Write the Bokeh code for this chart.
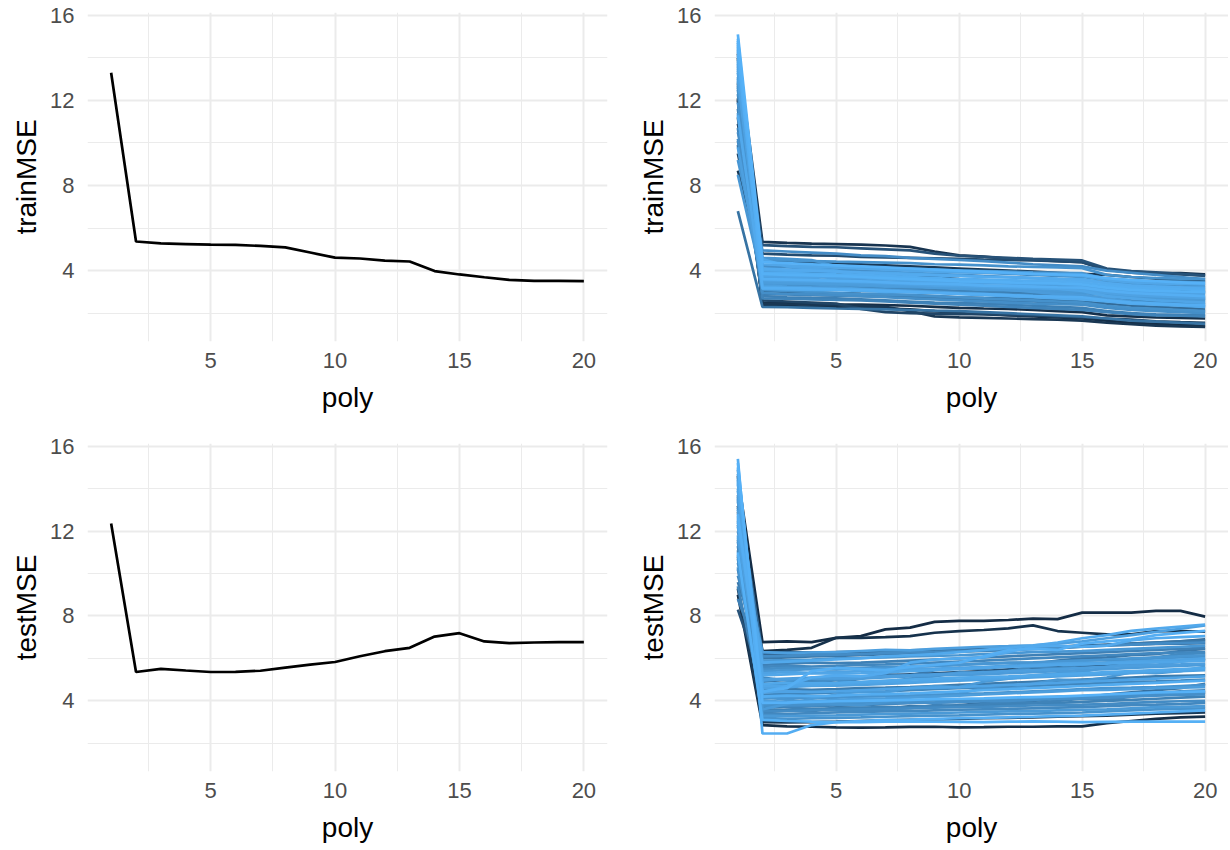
from bokeh.plotting import figure
from bokeh.layouts import gridplot
from bokeh.models import Range1d, FixedTicker
from bokeh.embed import file_html
from bokeh.resources import INLINE

# polynomial degree on the x axis
poly = list(range(1, 21))

# single split (left column)
train_one = [13.30, 5.37, 5.28, 5.25, 5.22, 5.21, 5.16, 5.09, 4.85, 4.61,
             4.57, 4.47, 4.43, 3.98, 3.82, 3.69, 3.57, 3.52, 3.52, 3.51]
test_one = [12.36, 5.36, 5.51, 5.43, 5.36, 5.37, 5.42, 5.57, 5.71, 5.83,
            6.10, 6.34, 6.50, 7.03, 7.19, 6.80, 6.72, 6.75, 6.77, 6.77]

# repeated splits (right column): simulation id and MSE per degree
train_sim = [8, 30, 73, 79, 12, 20, 95, 87, 5, 88, 25, 3, 80, 76, 92, 81, 63, 99, 75, 74,
             54, 85, 15, 97, 78, 100, 66, 90, 62, 96, 48, 72, 82, 98, 58, 86, 93, 68, 10, 83,
             91, 84, 77, 94, 89]
train_runs = [
    [14.2, 5.35, 5.30, 5.27, 5.25, 5.22, 5.18, 5.12, 4.90, 4.72, 4.66, 4.55, 4.50, 4.45, 4.40, 4.02, 3.95, 3.90, 3.88, 3.83],
    [12.8, 5.20, 5.15, 5.12, 5.10, 5.05, 5.00, 4.95, 4.80, 4.70, 4.65, 4.60, 4.55, 4.52, 4.48, 4.10, 3.98, 3.92, 3.85, 3.75],
    [10.5, 4.95, 4.90, 4.85, 4.80, 4.72, 4.68, 4.60, 4.55, 4.50, 4.45, 4.38, 4.30, 4.25, 4.20, 4.00, 3.90, 3.80, 3.70, 3.60],
    [13.6, 4.60, 4.55, 4.50, 4.20, 4.15, 4.12, 4.10, 4.05, 4.00, 3.98, 3.95, 3.92, 3.90, 3.88, 3.60, 3.55, 3.50, 3.48, 3.45],
    [8.7, 4.45, 4.40, 4.38, 4.35, 4.30, 4.25, 4.20, 4.15, 4.10, 4.05, 4.00, 3.95, 3.90, 3.85, 3.80, 3.70, 3.62, 3.55, 3.50],
    [11.2, 2.60, 2.55, 2.50, 2.45, 2.20, 2.05, 2.00, 1.98, 1.96, 1.95, 1.92, 1.90, 1.85, 1.80, 1.75, 1.70, 1.62, 1.58, 1.55],
    [14.5, 4.10, 4.05, 4.00, 3.95, 3.90, 3.85, 3.80, 3.78, 3.75, 3.72, 3.70, 3.65, 3.60, 3.55, 3.40, 3.30, 3.25, 3.20, 3.15],
    [9.8, 3.30, 3.25, 3.22, 3.20, 3.15, 3.10, 3.05, 3.00, 2.95, 2.90, 2.85, 2.80, 2.75, 2.70, 2.60, 2.50, 2.45, 2.40, 2.35],
    [12.1, 2.50, 2.48, 2.45, 2.42, 2.40, 2.38, 2.35, 2.30, 2.25, 2.22, 2.20, 2.15, 2.10, 2.05, 1.90, 1.85, 1.80, 1.78, 1.75],
    [13.0, 3.70, 3.65, 3.60, 3.55, 3.50, 3.48, 3.45, 3.40, 3.35, 3.30, 3.28, 3.25, 3.20, 3.15, 3.05, 3.00, 2.95, 2.90, 2.85],
    [10.9, 4.80, 4.75, 4.72, 4.70, 4.65, 4.62, 4.60, 4.58, 4.55, 4.52, 4.50, 4.48, 4.45, 4.40, 4.05, 3.90, 3.85, 3.82, 3.78],
    [14.0, 2.35, 2.33, 2.30, 2.28, 2.25, 2.22, 2.18, 2.10, 2.00, 1.95, 1.90, 1.85, 1.80, 1.75, 1.65, 1.55, 1.50, 1.45, 1.40],
    [9.2, 3.95, 3.90, 3.85, 3.80, 3.75, 3.70, 3.62, 3.55, 3.50, 3.45, 3.40, 3.35, 3.30, 3.25, 3.15, 3.10, 3.05, 3.00, 2.95],
    [12.5, 3.10, 3.05, 3.00, 2.95, 2.90, 2.88, 2.85, 2.80, 2.75, 2.70, 2.65, 2.60, 2.55, 2.50, 2.35, 2.25, 2.20, 2.15, 2.10],
    [13.9, 4.30, 4.25, 4.20, 4.15, 4.10, 4.05, 4.00, 3.95, 3.92, 3.90, 3.88, 3.85, 3.80, 3.75, 3.55, 3.45, 3.40, 3.38, 3.35],
    [8.5, 3.55, 3.50, 3.48, 3.45, 3.40, 3.35, 3.30, 3.25, 3.20, 3.15, 3.10, 3.05, 3.00, 2.95, 2.85, 2.75, 2.70, 2.65, 2.60],
    [11.6, 2.80, 2.75, 2.72, 2.70, 2.65, 2.60, 2.55, 2.50, 2.48, 2.45, 2.40, 2.35, 2.30, 2.25, 2.10, 2.00, 1.95, 1.92, 1.90],
    [14.8, 3.85, 3.80, 3.78, 3.75, 3.70, 3.65, 3.60, 3.55, 3.50, 3.48, 3.45, 3.42, 3.40, 3.35, 3.20, 3.10, 3.05, 3.02, 3.00],
    [10.2, 4.20, 4.15, 4.10, 4.05, 4.00, 3.95, 3.90, 3.85, 3.80, 3.75, 3.70, 3.65, 3.60, 3.55, 3.45, 3.35, 3.30, 3.25, 3.20],
    [12.9, 2.95, 2.90, 2.88, 2.85, 2.80, 2.75, 2.70, 2.65, 2.60, 2.55, 2.50, 2.45, 2.42, 2.40, 2.25, 2.15, 2.10, 2.05, 2.00],
    [6.8, 2.30, 2.28, 2.25, 2.22, 2.20, 2.18, 2.15, 2.12, 2.10, 2.05, 2.00, 1.95, 1.90, 1.85, 1.75, 1.65, 1.60, 1.55, 1.50],
    [13.3, 3.45, 3.42, 3.40, 3.38, 3.35, 3.30, 3.28, 3.25, 3.22, 3.20, 3.18, 3.15, 3.12, 3.10, 2.95, 2.85, 2.80, 2.78, 2.75],
    [9.5, 4.00, 3.98, 3.95, 3.92, 3.90, 3.85, 3.80, 3.70, 3.60, 3.55, 3.50, 3.45, 3.40, 3.35, 3.25, 3.15, 3.10, 3.08, 3.05],
    [14.3, 3.20, 3.18, 3.15, 3.12, 3.10, 3.05, 3.00, 2.95, 2.92, 2.90, 2.85, 2.80, 2.78, 2.75, 2.60, 2.50, 2.45, 2.40, 2.38],
    [11.9, 3.65, 3.60, 3.55, 3.50, 3.45, 3.40, 3.38, 3.35, 3.30, 3.28, 3.25, 3.20, 3.15, 3.10, 2.95, 2.85, 2.80, 2.75, 2.70],
    [15.1, 4.40, 4.35, 4.30, 4.25, 4.20, 4.15, 4.10, 4.05, 4.00, 3.95, 3.90, 3.85, 3.82, 3.80, 3.65, 3.55, 3.50, 3.45, 3.40],
    [10.7, 2.70, 2.68, 2.65, 2.62, 2.60, 2.55, 2.50, 2.45, 2.40, 2.35, 2.30, 2.25, 2.20, 2.15, 2.05, 1.95, 1.90, 1.88, 1.85],
    [13.7, 3.75, 3.72, 3.70, 3.68, 3.65, 3.60, 3.55, 3.50, 3.45, 3.42, 3.40, 3.38, 3.35, 3.30, 3.15, 3.05, 3.00, 2.98, 2.95],
    [12.3, 3.35, 3.30, 3.28, 3.25, 3.22, 3.20, 3.15, 3.10, 3.05, 3.00, 2.98, 2.95, 2.90, 2.85, 2.70, 2.60, 2.55, 2.52, 2.50],
    [14.6, 3.90, 3.88, 3.85, 3.82, 3.80, 3.75, 3.70, 3.65, 3.60, 3.58, 3.55, 3.52, 3.50, 3.45, 3.30, 3.20, 3.15, 3.12, 3.10],
    [9.9, 3.05, 3.00, 2.98, 2.95, 2.92, 2.90, 2.85, 2.80, 2.75, 2.72, 2.70, 2.65, 2.60, 2.55, 2.45, 2.35, 2.30, 2.25, 2.20],
    [13.1, 4.25, 4.22, 4.20, 4.18, 4.15, 4.10, 4.05, 4.00, 3.95, 3.90, 3.85, 3.80, 3.75, 3.70, 3.55, 3.45, 3.40, 3.35, 3.30],
    [11.4, 3.50, 3.48, 3.45, 3.42, 3.40, 3.38, 3.35, 3.30, 3.25, 3.20, 3.15, 3.10, 3.05, 3.00, 2.85, 2.75, 2.70, 2.68, 2.65],
    [14.9, 3.60, 3.58, 3.55, 3.52, 3.50, 3.45, 3.40, 3.38, 3.35, 3.30, 3.28, 3.25, 3.22, 3.20, 3.05, 2.95, 2.90, 2.85, 2.80],
    [12.7, 2.90, 2.88, 2.85, 2.82, 2.80, 2.78, 2.75, 2.70, 2.65, 2.60, 2.58, 2.55, 2.50, 2.45, 2.30, 2.20, 2.15, 2.12, 2.10],
    [13.4, 3.80, 3.78, 3.75, 3.72, 3.70, 3.68, 3.65, 3.60, 3.55, 3.50, 3.45, 3.40, 3.38, 3.35, 3.20, 3.10, 3.05, 3.00, 2.98],
    [14.1, 4.05, 4.00, 3.98, 3.95, 3.92, 3.90, 3.85, 3.80, 3.75, 3.70, 3.68, 3.65, 3.62, 3.60, 3.40, 3.30, 3.25, 3.22, 3.20],
    [10.1, 3.25, 3.22, 3.20, 3.18, 3.15, 3.12, 3.10, 3.05, 3.00, 2.95, 2.90, 2.85, 2.80, 2.78, 2.65, 2.55, 2.50, 2.45, 2.42],
    [12.0, 2.45, 2.42, 2.40, 2.38, 2.35, 2.30, 2.10, 1.85, 1.80, 1.78, 1.75, 1.72, 1.70, 1.65, 1.55, 1.48, 1.42, 1.38, 1.36],
    [13.8, 3.40, 3.38, 3.35, 3.32, 3.30, 3.25, 3.22, 3.20, 3.15, 3.10, 3.08, 3.05, 3.02, 3.00, 2.85, 2.75, 2.70, 2.65, 2.62],
    [13.5, 4.55, 4.20, 4.10, 4.00, 3.70, 3.60, 3.55, 3.45, 3.40, 3.30, 3.25, 3.20, 3.15, 3.05, 2.80, 2.70, 2.60, 2.55, 2.50],
    [14.4, 3.95, 3.92, 3.80, 3.60, 3.55, 3.50, 3.30, 3.20, 3.18, 3.15, 3.10, 3.00, 2.90, 2.85, 2.70, 2.55, 2.45, 2.40, 2.30],
    [12.6, 4.50, 4.48, 4.45, 4.42, 4.40, 4.38, 4.35, 4.30, 4.28, 4.25, 4.20, 4.18, 4.15, 4.12, 3.80, 3.70, 3.65, 3.62, 3.60],
    [11.3, 3.15, 3.12, 3.10, 3.08, 3.05, 3.00, 2.98, 2.95, 2.90, 2.85, 2.80, 2.75, 2.70, 2.65, 2.55, 2.45, 2.40, 2.35, 2.30],
    [14.7, 3.55, 3.52, 3.50, 3.48, 3.45, 3.40, 3.35, 3.30, 3.28, 3.25, 3.20, 3.18, 3.15, 3.10, 2.95, 2.85, 2.80, 2.75, 2.72],
]

test_sim = [2, 6, 94, 97, 4, 99, 30, 42, 85, 74, 70, 88, 57, 75, 92, 77, 90, 64, 96, 65,
            81, 93, 12, 80, 60, 82, 73, 78, 86, 100, 69, 72, 91, 68, 47, 76, 89, 98, 62, 84,
            95, 87, 79, 83, 71, 66, 58, 52]
test_runs = [
    [14.6, 6.77, 6.80, 6.77, 6.97, 7.05, 7.37, 7.45, 7.72, 7.77, 7.77, 7.81, 7.88, 7.85, 8.16, 8.16, 8.16, 8.24, 8.24, 7.97],
    [13.2, 6.35, 6.40, 6.50, 6.97, 6.97, 7.00, 7.05, 7.21, 7.29, 7.34, 7.42, 7.56, 7.29, 7.21, 7.13, 7.13, 7.29, 7.29, 7.26],
    [12.4, 5.80, 5.85, 5.90, 5.95, 6.00, 6.10, 6.15, 6.20, 6.30, 6.40, 6.50, 6.60, 6.75, 6.95, 7.10, 7.30, 7.40, 7.50, 7.60],
    [15.4, 2.46, 2.46, 2.86, 3.00, 3.05, 3.10, 3.12, 3.15, 3.18, 3.20, 3.22, 3.25, 3.28, 3.30, 3.35, 3.40, 3.45, 3.50, 3.55],
    [9.0, 2.86, 2.80, 2.78, 2.75, 2.74, 2.75, 2.77, 2.78, 2.75, 2.76, 2.78, 2.78, 2.80, 2.80, 2.95, 3.05, 3.15, 3.22, 3.26],
    [11.0, 3.10, 3.05, 3.02, 3.00, 3.00, 3.02, 3.03, 3.02, 3.01, 3.00, 3.02, 3.03, 3.02, 3.00, 3.01, 3.02, 3.02, 3.02, 3.02],
    [8.3, 4.90, 5.00, 5.05, 5.10, 5.12, 5.20, 5.25, 5.30, 5.35, 5.40, 5.48, 5.55, 5.60, 5.65, 5.70, 5.78, 5.85, 5.90, 5.95],
    [12.9, 6.20, 6.22, 6.25, 6.22, 6.25, 6.30, 6.28, 6.30, 6.35, 6.40, 6.45, 6.50, 6.55, 6.60, 6.65, 6.70, 6.75, 6.80, 6.90],
    [14.0, 4.00, 3.95, 3.98, 4.05, 4.10, 4.12, 4.15, 4.20, 4.25, 4.30, 4.35, 4.40, 4.45, 4.50, 4.52, 4.55, 4.60, 4.62, 4.65],
    [10.5, 5.50, 5.55, 5.52, 5.50, 5.55, 5.60, 5.62, 5.65, 5.70, 5.75, 5.80, 5.82, 5.85, 5.90, 5.92, 5.95, 6.00, 6.05, 6.10],
    [13.6, 3.40, 3.38, 3.42, 3.45, 3.48, 3.50, 3.52, 3.55, 3.58, 3.60, 3.62, 3.65, 3.68, 3.70, 3.75, 3.80, 3.82, 3.85, 3.90],
    [11.8, 4.60, 4.65, 4.70, 4.72, 4.75, 4.80, 4.85, 4.90, 4.95, 5.00, 5.05, 5.10, 5.15, 5.20, 5.25, 5.30, 5.35, 5.40, 5.45],
    [9.6, 6.00, 6.05, 6.10, 6.12, 6.15, 6.20, 6.25, 6.30, 6.32, 6.35, 6.40, 6.45, 6.50, 6.55, 6.62, 6.70, 6.75, 6.80, 6.85],
    [14.9, 3.75, 3.80, 3.78, 3.82, 3.85, 3.88, 3.90, 3.92, 3.95, 3.98, 4.00, 4.05, 4.10, 4.12, 4.15, 4.20, 4.25, 4.28, 4.30],
    [12.2, 5.20, 5.25, 5.30, 5.28, 5.30, 5.35, 5.40, 5.45, 5.50, 5.55, 5.60, 5.65, 5.70, 5.72, 5.75, 5.80, 5.82, 5.85, 5.90],
    [10.9, 3.20, 3.15, 3.18, 3.20, 3.22, 3.25, 3.28, 3.30, 3.32, 3.35, 3.38, 3.40, 3.42, 3.45, 3.50, 3.55, 3.60, 3.62, 3.65],
    [13.9, 4.40, 4.45, 4.42, 4.45, 4.50, 4.55, 4.60, 4.62, 4.65, 4.70, 4.75, 4.80, 4.85, 4.90, 4.95, 5.00, 5.05, 5.10, 5.15],
    [8.8, 5.70, 5.75, 5.80, 5.78, 5.80, 5.85, 5.90, 5.95, 6.00, 6.05, 6.10, 6.15, 6.20, 6.25, 6.30, 6.35, 6.40, 6.45, 6.50],
    [15.0, 4.20, 4.25, 4.22, 4.25, 4.30, 4.32, 4.35, 4.40, 4.45, 4.50, 4.55, 4.60, 4.65, 4.70, 4.75, 4.80, 4.85, 4.90, 4.95],
    [11.3, 3.60, 3.58, 3.62, 3.65, 3.68, 3.70, 3.72, 3.75, 3.78, 3.80, 3.85, 3.88, 3.90, 3.95, 4.00, 4.05, 4.10, 4.15, 4.20],
    [12.7, 5.90, 5.92, 5.95, 6.00, 6.02, 6.05, 6.10, 6.12, 6.15, 6.20, 6.25, 6.30, 6.32, 6.35, 6.40, 6.45, 6.50, 6.55, 6.60],
    [14.3, 4.80, 4.85, 4.82, 4.85, 4.90, 4.95, 5.00, 5.05, 5.10, 5.12, 5.15, 5.20, 5.25, 5.30, 5.35, 5.40, 5.45, 5.50, 5.55],
    [9.3, 3.00, 2.98, 3.00, 3.02, 3.05, 3.08, 3.10, 3.12, 3.15, 3.18, 3.20, 3.22, 3.25, 3.28, 3.30, 3.35, 3.40, 3.42, 3.45],
    [13.4, 5.40, 5.45, 5.50, 5.48, 5.52, 5.55, 5.60, 5.65, 5.70, 5.75, 5.78, 5.80, 5.85, 5.90, 5.95, 6.00, 6.05, 6.10, 6.15],
    [10.2, 4.50, 4.55, 4.52, 4.55, 4.60, 4.62, 4.65, 4.70, 4.75, 4.80, 4.85, 4.90, 4.95, 5.00, 5.05, 5.10, 5.15, 5.18, 5.20],
    [14.7, 3.30, 3.28, 3.30, 3.32, 3.35, 3.38, 3.40, 3.42, 3.45, 3.48, 3.50, 3.52, 3.55, 3.58, 3.60, 3.65, 3.70, 3.72, 3.75],
    [12.0, 6.10, 6.12, 6.15, 6.18, 6.20, 6.25, 6.28, 6.30, 6.35, 6.38, 6.40, 6.45, 6.50, 6.55, 6.60, 6.65, 6.70, 6.72, 6.75],
    [11.5, 4.10, 4.15, 4.12, 4.15, 4.20, 4.22, 4.25, 4.30, 4.32, 4.35, 4.40, 4.45, 4.50, 4.55, 4.60, 4.62, 4.65, 4.70, 4.75],
    [13.0, 5.00, 5.05, 5.10, 5.08, 5.10, 5.15, 5.20, 5.25, 5.30, 5.35, 5.40, 5.45, 5.50, 5.55, 5.60, 5.65, 5.70, 5.72, 5.75],
    [15.2, 3.90, 3.92, 3.95, 3.98, 4.00, 4.02, 4.05, 4.08, 4.10, 4.12, 4.15, 4.18, 4.20, 4.25, 4.30, 4.35, 4.40, 4.42, 4.45],
    [9.9, 5.60, 5.65, 5.62, 5.65, 5.70, 5.72, 5.75, 5.80, 5.85, 5.90, 5.95, 6.00, 6.05, 6.10, 6.15, 6.20, 6.25, 6.28, 6.30],
    [12.5, 3.50, 3.52, 3.55, 3.58, 3.60, 3.62, 3.65, 3.68, 3.70, 3.72, 3.75, 3.78, 3.80, 3.82, 3.85, 3.90, 3.95, 3.98, 4.00],
    [14.4, 4.70, 4.72, 4.75, 4.80, 4.85, 4.88, 4.90, 4.95, 5.00, 5.05, 5.10, 5.15, 5.20, 5.25, 5.30, 5.35, 5.40, 5.45, 5.50],
    [11.1, 4.30, 4.32, 4.35, 4.40, 4.42, 4.45, 4.50, 4.55, 4.60, 4.62, 4.65, 4.70, 4.75, 4.80, 4.85, 4.90, 4.92, 4.95, 5.00],
    [13.7, 6.25, 6.30, 6.28, 6.30, 6.32, 6.35, 6.38, 6.40, 6.42, 6.45, 6.48, 6.50, 6.55, 6.60, 6.62, 6.65, 6.68, 6.70, 6.72],
    [10.7, 3.80, 3.82, 3.85, 3.88, 3.90, 3.95, 4.00, 4.02, 4.05, 4.08, 4.10, 4.15, 4.20, 4.22, 4.25, 4.30, 4.35, 4.38, 4.40],
    [14.2, 5.30, 5.35, 5.32, 5.35, 5.40, 5.45, 5.50, 5.52, 5.55, 5.60, 5.65, 5.70, 5.75, 5.78, 5.80, 5.85, 5.90, 5.95, 6.00],
    [12.8, 4.45, 4.60, 5.40, 5.55, 5.50, 5.45, 5.60, 5.70, 5.80, 6.10, 6.40, 6.45, 6.40, 6.70, 6.80, 6.90, 7.10, 7.20, 7.30],
    [11.6, 3.70, 3.72, 3.75, 3.78, 3.80, 3.85, 3.90, 3.92, 3.95, 4.00, 4.05, 4.10, 4.12, 4.15, 4.20, 4.25, 4.30, 4.35, 4.40],
    [13.5, 4.95, 5.00, 5.05, 5.02, 5.05, 5.10, 5.15, 5.20, 5.22, 5.25, 5.30, 5.35, 5.40, 5.45, 5.50, 5.55, 5.60, 5.65, 5.70],
    [12.6, 4.40, 4.70, 5.10, 5.20, 5.15, 5.30, 5.80, 5.95, 6.00, 6.05, 6.30, 6.55, 6.60, 6.55, 6.60, 6.85, 6.95, 7.00, 7.05],
    [11.7, 6.30, 6.25, 6.28, 6.30, 6.35, 6.40, 6.38, 6.45, 6.50, 6.55, 6.58, 6.62, 6.70, 6.80, 6.95, 7.10, 7.25, 7.40, 7.55],
    [10.3, 4.20, 4.05, 3.95, 3.85, 3.80, 3.95, 4.25, 4.20, 4.35, 4.60, 4.55, 4.80, 5.00, 4.95, 5.10, 5.35, 5.30, 5.40, 5.60],
    [14.5, 3.60, 3.85, 4.10, 4.30, 4.45, 4.40, 4.60, 4.70, 4.65, 4.90, 5.05, 5.20, 5.30, 5.35, 5.60, 5.75, 5.70, 5.85, 6.00],
    [13.1, 5.10, 4.95, 4.90, 5.00, 4.85, 4.90, 5.05, 5.15, 5.35, 5.30, 5.40, 5.60, 5.55, 5.70, 5.80, 5.85, 6.05, 6.20, 6.25],
    [9.4, 3.90, 3.70, 3.60, 3.55, 3.50, 3.60, 3.65, 3.80, 3.75, 3.85, 3.95, 3.90, 4.00, 4.10, 4.05, 4.20, 4.35, 4.45, 4.50],
    [12.3, 4.75, 4.80, 4.95, 4.85, 5.05, 5.25, 5.20, 5.45, 5.55, 5.50, 5.65, 5.75, 5.90, 6.00, 6.05, 6.15, 6.20, 6.35, 6.45],
    [10.8, 3.45, 3.55, 3.50, 3.70, 3.65, 3.60, 3.75, 3.70, 3.80, 3.90, 4.05, 4.00, 4.10, 4.15, 4.30, 4.40, 4.50, 4.60, 4.80],
]

FONT = "Liberation Sans"
GRID = "#EBEBEB"
LOW, HIGH = (0x13, 0x2B, 0x43), (0x56, 0xB1, 0xF7)


def shade(sim):
    t = (sim - 1) / 99
    return "#%02x%02x%02x" % tuple(round(a + (b - a) * t) for a, b in zip(LOW, HIGH))


def make_panel(ylabel, width, height, left, right, top, bottom):
    p = figure(width=width, height=height,
               x_range=Range1d(0.05, 20.95), y_range=Range1d(0.67, 16.13),
               toolbar_location=None, output_backend="svg",
               min_border_left=left, min_border_right=right,
               min_border_top=top, min_border_bottom=bottom)
    p.outline_line_color = None
    p.background_fill_color = "white"
    p.border_fill_color = "white"

    p.xaxis.ticker = FixedTicker(ticks=[5, 10, 15, 20], minor_ticks=[2.5, 7.5, 12.5, 17.5])
    p.yaxis.ticker = FixedTicker(ticks=[4, 8, 12, 16], minor_ticks=[2, 6, 10, 14])
    p.xaxis.axis_label = "poly"
    p.yaxis.axis_label = ylabel

    for ax in p.xaxis + p.yaxis:
        ax.axis_line_color = None
        ax.major_tick_line_color = None
        ax.minor_tick_line_color = None
        ax.major_tick_out = 0
        ax.major_tick_in = 0
        ax.minor_tick_out = 0
        ax.minor_tick_in = 0
        ax.major_label_text_font = FONT
        ax.major_label_text_font_size = "22px"
        ax.major_label_text_color = "#4D4D4D"
        ax.axis_label_text_font = FONT
        ax.axis_label_text_font_size = "28px"
        ax.axis_label_text_font_style = "normal"
        ax.axis_label_text_color = "black"
    p.xaxis.major_label_standoff = 11
    p.xaxis.axis_label_standoff = 11
    p.yaxis.major_label_standoff = 13
    p.yaxis.axis_label_standoff = 5

    for g in (p.xgrid, p.ygrid):
        g.grid_line_color = GRID
        g.grid_line_width = 2
        g.minor_grid_line_color = GRID
        g.minor_grid_line_width = 1
    return p


def add_runs(p, sims, runs):
    order = sorted(range(len(sims)), key=lambda i: sims[i])
    p.multi_line(xs=[poly] * len(order), ys=[runs[i] for i in order],
                 line_color=[shade(sims[i]) for i in order], line_width=2.7)


p1 = make_panel("trainMSE", 615, 433, 87, 8, 12, 92)
p1.line(poly, train_one, line_color="black", line_width=2.7)

p2 = make_panel("trainMSE", 613, 433, 99, 0, 12, 92)
add_runs(p2, train_sim, train_runs)

p3 = make_panel("testMSE", 615, 416, 87, 8, 10, 78)
p3.line(poly, test_one, line_color="black", line_width=2.7)

p4 = make_panel("testMSE", 613, 416, 99, 0, 10, 78)
add_runs(p4, test_sim, test_runs)

grid = gridplot([[p1, p2], [p3, p4]], toolbar_location=None)

open("out.html", "w").write(file_html(grid, INLINE))
